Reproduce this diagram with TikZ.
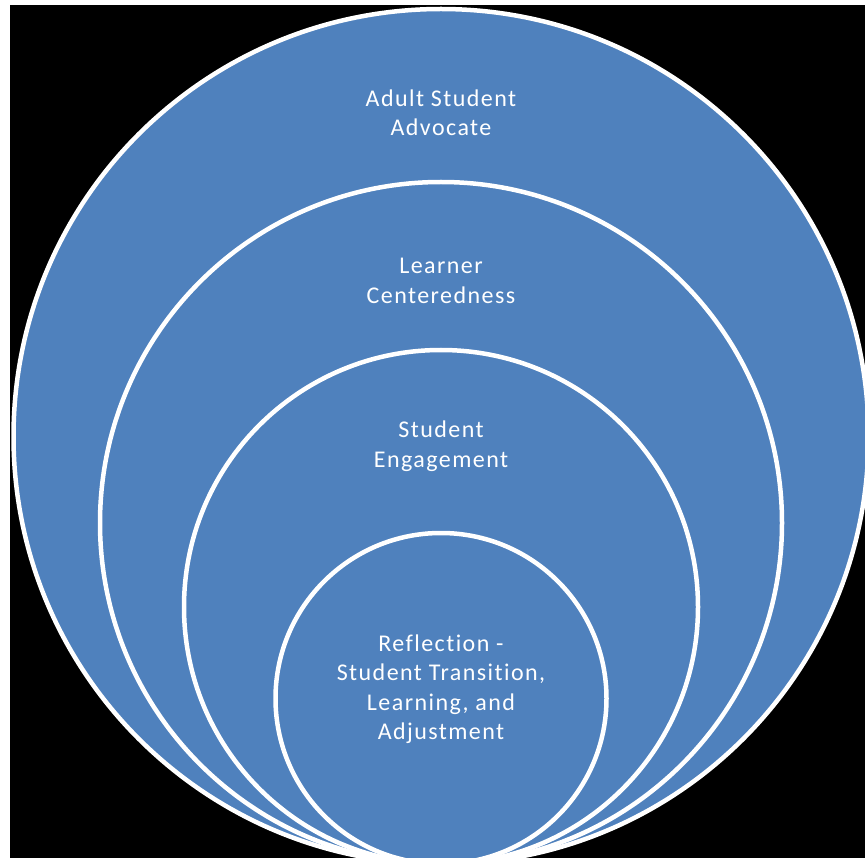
\documentclass[tikz,border=0pt]{standalone}
\usepackage{fontspec}
\setmainfont{Carlito}[LetterSpace=6,Ligatures={NoCommon}]
\definecolor{ringblue}{RGB}{79,129,189}
\begin{document}
\begin{tikzpicture}[x=1pt,y=-1pt,
  ring/.style={circle,draw=white,line width=4.5pt,fill=ringblue,inner sep=0pt},
  lbl/.style={text=white,align=center,font=\fontsize{24}{29.5}\selectfont,inner sep=0pt}]
\useasboundingbox (0,0) rectangle (865,858);
\clip (0,0) rectangle (865,858);
\fill[white] (0,0) rectangle (865,858);
\fill[black] (10,5) rectangle (865,858);
\node[ring,minimum size=855pt] (c1) at (441,436.5) {};
\node[ring,minimum size=682pt] (c2) at (441,523) {};
\node[ring,minimum size=514pt] (c3) at (441,607) {};
\node[ring,minimum size=331pt] (c4) at (441,698.5) {};
\node[lbl] (t1) at (441,113) {Adult Student\\Advocate};
\node[lbl] (t2) at (441,281) {Learner\\Centeredness};
\node[lbl] (t3) at (441,446) {Student\\Engagement};
\node[lbl] (t4) at (441,689) {Reflection -\\Student Transition,\\Learning, and\\Adjustment};
\end{tikzpicture}
\end{document}
